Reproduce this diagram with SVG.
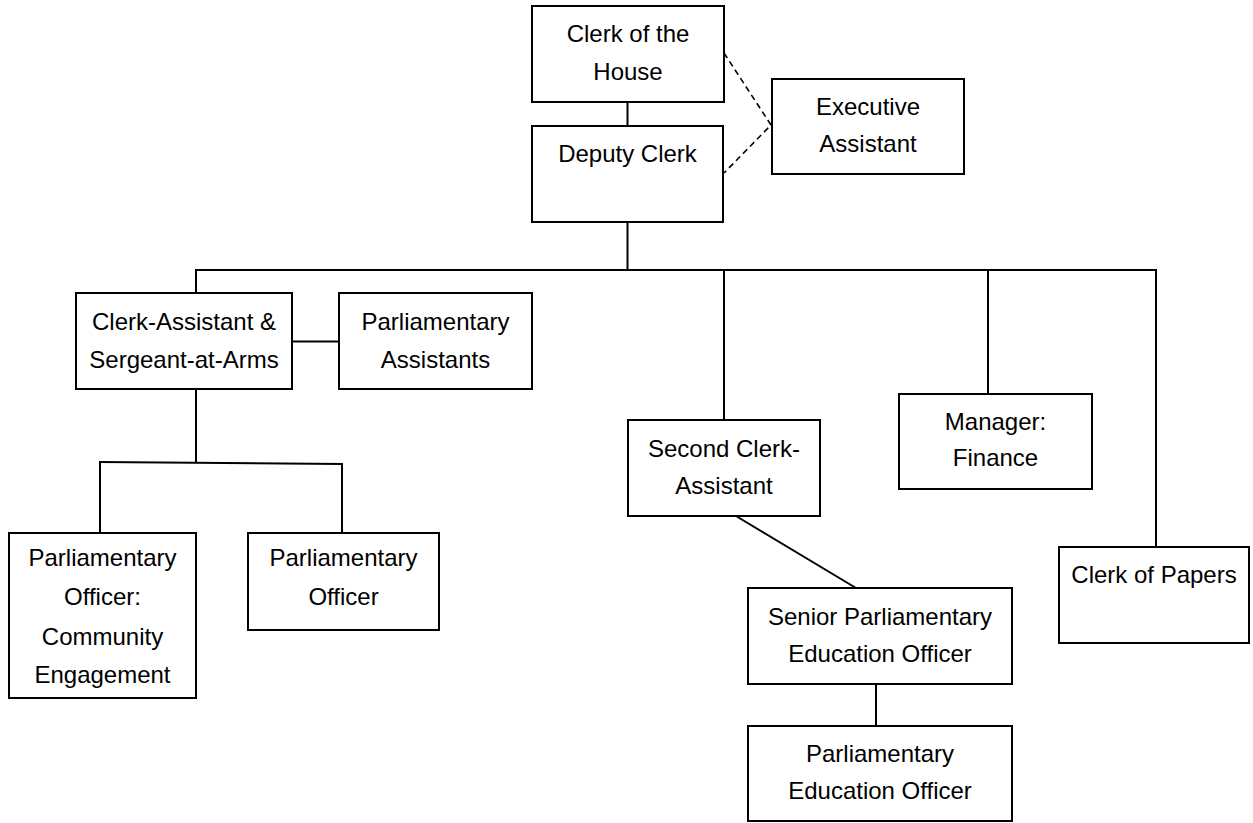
<svg xmlns="http://www.w3.org/2000/svg" width="1253" height="823" viewBox="0 0 1253 823">
<style>
.box{fill:#fff;stroke:#000;stroke-width:2}
.ln{stroke:#000;stroke-width:2;fill:none}
.dash{stroke:#000;stroke-width:1.6;fill:none;stroke-dasharray:6,4}
text{font-family:"Liberation Sans",Arial,sans-serif;font-size:24px;fill:#000;text-anchor:middle}
</style>
<rect width="1253" height="823" fill="#fff"/>
<g id="connectors">
<line class="ln" x1="627.5" y1="102" x2="627.5" y2="126"/>
<polyline class="dash" points="724,53 771,125 724,173"/>
<line class="ln" x1="627.5" y1="222" x2="627.5" y2="270"/>
<line class="ln" x1="195" y1="270" x2="1157" y2="270"/>
<line class="ln" x1="196" y1="270" x2="196" y2="293"/>
<line class="ln" x1="724" y1="270" x2="724" y2="420"/>
<line class="ln" x1="988" y1="270" x2="988" y2="394"/>
<line class="ln" x1="1156" y1="270" x2="1156" y2="547"/>
<line class="ln" x1="292" y1="341.5" x2="339" y2="341.5"/>
<line class="ln" x1="196" y1="389" x2="196" y2="462.5"/>
<line class="ln" x1="99" y1="462" x2="343" y2="464"/>
<line class="ln" x1="100" y1="462" x2="100" y2="533"/>
<line class="ln" x1="342" y1="464" x2="342" y2="533"/>
<line class="ln" x1="736" y1="516" x2="856" y2="588"/>
<line class="ln" x1="876" y1="684" x2="876" y2="726"/>
</g>
<g id="clerk-of-the-house">
<rect class="box" x="532" y="6" width="192" height="96"/>
<text x="628" y="42">Clerk of the</text>
<text x="628" y="80">House</text>
</g>
<g id="deputy-clerk">
<rect class="box" x="532" y="126" width="191" height="96"/>
<text x="627.5" y="162">Deputy Clerk</text>
</g>
<g id="executive-assistant">
<rect class="box" x="772" y="79" width="192" height="95"/>
<text x="868" y="115">Executive</text>
<text x="868" y="152">Assistant</text>
</g>
<g id="clerk-assistant">
<rect class="box" x="76" y="293" width="216" height="96"/>
<text x="184" y="330">Clerk-Assistant &amp;</text>
<text x="184" y="368">Sergeant-at-Arms</text>
</g>
<g id="parliamentary-assistants">
<rect class="box" x="339" y="293" width="193" height="96"/>
<text x="435.5" y="330">Parliamentary</text>
<text x="435.5" y="368">Assistants</text>
</g>
<g id="parliamentary-officer-community">
<rect class="box" x="9" y="533" width="187" height="165"/>
<text x="102.5" y="566">Parliamentary</text>
<text x="102.5" y="605">Officer:</text>
<text x="102.5" y="645">Community</text>
<text x="102.5" y="683">Engagement</text>
</g>
<g id="parliamentary-officer">
<rect class="box" x="248" y="533" width="191" height="97"/>
<text x="343.5" y="566">Parliamentary</text>
<text x="343.5" y="605">Officer</text>
</g>
<g id="second-clerk-assistant">
<rect class="box" x="628" y="420" width="192" height="96"/>
<text x="724" y="457">Second Clerk-</text>
<text x="724" y="494">Assistant</text>
</g>
<g id="manager-finance">
<rect class="box" x="899" y="394" width="193" height="95"/>
<text x="995.5" y="430">Manager:</text>
<text x="995.5" y="466">Finance</text>
</g>
<g id="senior-parliamentary-education-officer">
<rect class="box" x="748" y="588" width="264" height="96"/>
<text x="880" y="625">Senior Parliamentary</text>
<text x="880" y="662">Education Officer</text>
</g>
<g id="parliamentary-education-officer">
<rect class="box" x="748" y="726" width="264" height="95"/>
<text x="880" y="762">Parliamentary</text>
<text x="880" y="799">Education Officer</text>
</g>
<g id="clerk-of-papers">
<rect class="box" x="1059" y="547" width="190" height="96"/>
<text x="1154" y="583">Clerk of Papers</text>
</g>
</svg>
